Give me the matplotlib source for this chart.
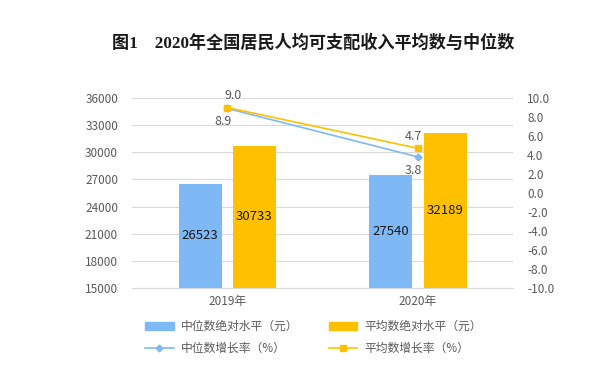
import numpy as np
import matplotlib
matplotlib.use("Agg")
import matplotlib.pyplot as plt
from matplotlib.lines import Line2D
from matplotlib.patches import Patch

plt.rcParams['font.family'] = ['Noto Sans CJK SC', 'DejaVu Sans']

years = ["2019年", "2020年"]
median_level = [26523, 27540]
mean_level = [30733, 32189]
median_growth = [8.9, 3.8]
mean_growth = [9.0, 4.7]

BLUE = "#7FB9F5"
GOLD = "#FFC000"
GRAY = "#595959"

fig = plt.figure(figsize=(6.11, 3.77), dpi=100)
ax = fig.add_axes([0.216, 0.236, 0.624, 0.504])
ax2 = ax.twinx()

x = np.arange(len(years))
w = 0.225
gap = 0.06
b1 = ax.bar(x - w / 2 - gap / 2, median_level, w, color=BLUE, zorder=2)
b2 = ax.bar(x + w / 2 + gap / 2, mean_level, w, color=GOLD, zorder=2)

for bars in (b1, b2):
    for r in bars:
        h = r.get_height()
        ax.text(r.get_x() + r.get_width() / 2, (15000 + h) / 2, f"{h:.0f}",
                ha="center", va="center", fontsize=9.5, color="#1a1a1a")

ax.set_ylim(15000, 36000)
ax.set_yticks(np.arange(15000, 36001, 3000))
ax.set_xlim(-0.5, 1.5)
ax.set_xticks(x)
ax.set_xticklabels(years)
ax.grid(axis="y", color="#D9D9D9", linewidth=0.8, zorder=0)
ax.set_axisbelow(True)
for s in ["top", "left", "right"]:
    ax.spines[s].set_visible(False)
ax.spines["bottom"].set_color("#D9D9D9")
ax.tick_params(axis="y", length=0, labelsize=8.5, labelcolor=GRAY, pad=10)
ax.tick_params(axis="x", length=0, labelsize=8.5, labelcolor=GRAY, pad=5)

ax2.plot(x, median_growth, color=BLUE, marker="D", markersize=3.5, linewidth=1.2, zorder=3)
ax2.plot(x, mean_growth, color=GOLD, marker="s", markersize=5, linewidth=1.2, zorder=3)
ax2.set_ylim(-10, 10)
ax2.set_yticks(np.arange(-10, 10.1, 2))
ax2.set_yticklabels([f"{v:.1f}" for v in np.arange(-10, 10.1, 2)])
for s in ["top", "left", "right", "bottom"]:
    ax2.spines[s].set_visible(False)
ax2.tick_params(axis="y", length=0, labelsize=8.5, labelcolor=GRAY, pad=10)

mean_dx = [4, -3]
for i in range(len(years)):
    ax2.annotate(f"{mean_growth[i]:.1f}", (x[i], mean_growth[i]), xytext=(mean_dx[i], 4),
                 textcoords="offset points", ha="center", va="bottom", fontsize=9, color=GRAY)
    ax2.annotate(f"{median_growth[i]:.1f}", (x[i], median_growth[i]), xytext=(-3, -5),
                 textcoords="offset points", ha="center", va="top", fontsize=9, color=GRAY)

fig.text(0.512, 0.887, "图1    2020年全国居民人均可支配收入平均数与中位数",
         ha="center", va="center", fontsize=12.3, fontweight="bold", color="#1a1a1a",
         family=['Liberation Serif', 'Noto Sans CJK SC'])

handles = [
    Patch(color=BLUE), Patch(color=GOLD),
    Line2D([], [], color=BLUE, marker="D", markersize=3.5, linewidth=1.2),
    Line2D([], [], color=GOLD, marker="s", markersize=4.5, linewidth=1.2),
]
labels = ["中位数绝对水平（元）", "平均数绝对水平（元）", "中位数增长率（%）", "平均数增长率（%）"]
order = [0, 2, 1, 3]
fig.legend([handles[i] for i in order], [labels[i] for i in order], ncol=2,
           loc="center", bbox_to_anchor=(0.513, 0.105), frameon=False,
           fontsize=8.5, labelcolor=GRAY, columnspacing=2.6, handlelength=2.4,
           handleheight=0.6, labelspacing=0.75, handletextpad=0.6)

fig.savefig("out.png", dpi=100)
